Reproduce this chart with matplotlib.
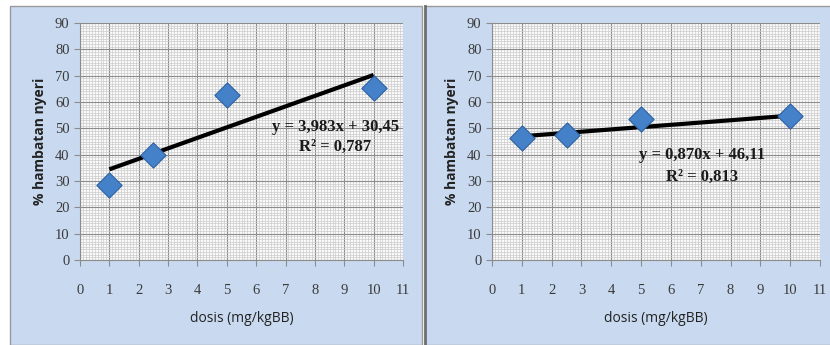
import numpy as np
import matplotlib
matplotlib.use("Agg")
import matplotlib.pyplot as plt
from matplotlib.patches import Rectangle
from matplotlib.ticker import MultipleLocator

dose = [1, 2.5, 5, 10]
left_vals = [28.5, 40, 62.5, 65.5]
right_vals = [46.5, 47.5, 53.5, 54.5]
left_fit = (3.983, 30.45)
right_fit = (0.870, 46.11)
left_eq = ["y = 3,983x + 30,45", "R² = 0,787"]
right_eq = ["y = 0,870x + 46,11", "R² = 0,813"]
xlabel = "dosis (mg/kgBB)"
ylabel = "% hambatan nyeri"

bg = "#c9daf0"
fig = plt.figure(figsize=(8.3, 3.45), dpi=100)
fig.patch.set_facecolor("white")

# panel backgrounds
fig.patches.append(Rectangle((10/830, 0), 412/830, 339/345, transform=fig.transFigure,
                             facecolor=bg, edgecolor="#9a9a9a", lw=1, zorder=-10))
fig.patches.append(Rectangle((425/830, 0), 410/830, 339/345, transform=fig.transFigure,
                             facecolor=bg, edgecolor="#9a9a9a", lw=1, zorder=-10))
fig.lines.append(plt.Line2D([424.5/830, 424.5/830], [0, 339/345], transform=fig.transFigure,
                            color="#6e6e6e", lw=2, zorder=-5))

def panel(rect, vals, fit, eq, eqpos):
    ax = fig.add_axes(rect)
    ax.set_facecolor("#fafafa")
    ax.set_xlim(0, 11)
    ax.set_ylim(0, 90)
    ax.xaxis.set_major_locator(MultipleLocator(1))
    ax.yaxis.set_major_locator(MultipleLocator(10))
    ax.xaxis.set_minor_locator(MultipleLocator(0.1))
    ax.yaxis.set_minor_locator(MultipleLocator(1))
    ax.grid(which="minor", color="#cccccc", lw=0.5)
    ax.grid(which="major", color="#8c8c8c", lw=0.8)
    ax.set_axisbelow(True)
    for s in ["top", "right"]:
        ax.spines[s].set_visible(False)
    for s in ["left", "bottom"]:
        ax.spines[s].set_color("#8c8c8c")
    ax.tick_params(which="minor", length=0)
    ax.tick_params(which="major", length=4, color="#8c8c8c", labelcolor="#3a3a3a",
                   labelsize=10.5)
    ax.tick_params(axis="x", pad=13)
    for lab in ax.get_xticklabels() + ax.get_yticklabels():
        lab.set_family("Liberation Serif")
    xs = np.array([min(dose), max(dose)])
    ax.plot(xs, fit[0] * xs + fit[1], color="black", lw=3, zorder=3,
            solid_capstyle="butt")
    ax.scatter(dose, vals, marker="D", s=165, color="#4581c8", edgecolor="#2d62a3",
               lw=0.8, zorder=4)
    ax.text(eqpos[0], eqpos[1], eq[0], ha="center", va="center", fontsize=12,
            fontweight="bold", family="Liberation Serif", color="#1a1a1a", zorder=5)
    ax.text(eqpos[0], eqpos[2], eq[1], ha="center", va="center", fontsize=12,
            fontweight="bold", family="Liberation Serif", color="#1a1a1a", zorder=5)
    ax.set_xlabel(xlabel, fontsize=10, family="Open Sans", color="#222222", labelpad=10)
    ax.set_ylabel(ylabel, fontsize=10, family="Open Sans", color="#222222",
                  fontweight="bold", labelpad=6)
    return ax

panel([80/830, 85/345, 323/830, 237/345], left_vals, left_fit, left_eq, (8.7, 50.5, 42.9))
panel([492/830, 85/345, 328/830, 237/345], right_vals, right_fit, right_eq, (7.05, 39.9, 31.5))

fig.savefig("out.png", dpi=100, facecolor=fig.get_facecolor())
